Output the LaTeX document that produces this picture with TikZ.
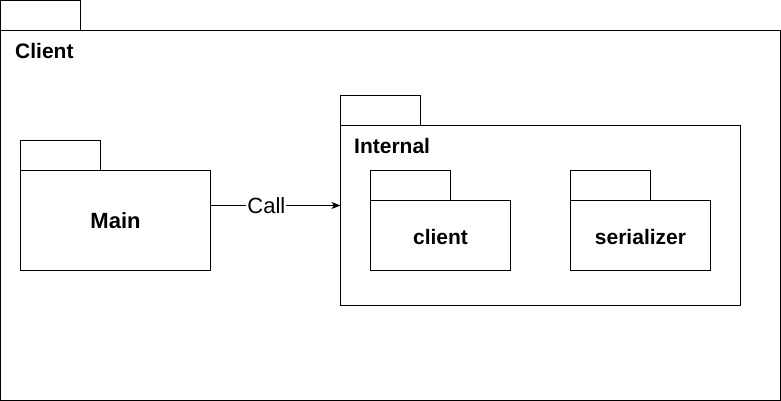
\documentclass[tikz,border=0pt]{standalone}
\usepackage{fontspec}
\setmainfont{Liberation Sans}
\usetikzlibrary{arrows.meta}
\begin{document}
\begin{tikzpicture}[x=1pt,y=-1pt,
  box/.style={draw=black, line width=1pt, fill=white, rectangle, inner sep=0pt, outer sep=0pt, anchor=north west},
  lbl/.style={inner sep=0pt, font=\bfseries\fontsize{21}{25}\selectfont},
  arr/.style={line width=1pt, -{Stealth[length=9pt,width=7pt,inset=2.5pt]}}
]
\useasboundingbox (0,0) rectangle (781,401);
% Client package
\node[box, minimum width=80pt, minimum height=30pt] (clienttab) at (0.5,0.5) {};
\node[box, minimum width=780pt, minimum height=370pt] (clientbody) at (0.5,30.5) {};
\node[lbl, anchor=west] (clientlbl) at (15,51) {Client};
% Main package
\node[box, minimum width=80pt, minimum height=30pt] (maintab) at (20.5,140.5) {};
\node[box, minimum width=190pt, minimum height=100pt] (mainbody) at (20.5,170.5) {};
\node[lbl, font=\bfseries\fontsize{22}{26}\selectfont] (mainlbl) at (mainbody.center) {Main};
% Internal package
\node[box, minimum width=80pt, minimum height=30pt] (inttab) at (340.5,95.5) {};
\node[box, minimum width=400pt, minimum height=180pt] (intbody) at (340.5,125.5) {};
\node[lbl, anchor=west] (intlbl) at (354,146) {Internal};
% client package
\node[box, minimum width=80pt, minimum height=30pt] (cltab) at (370.5,170.5) {};
\node[box, minimum width=140pt, minimum height=70pt] (clbody) at (370.5,200.5) {};
\node[lbl] (cllbl) at ([yshift=-1pt]clbody.center) {client};
% serializer package
\node[box, minimum width=80pt, minimum height=30pt] (sertab) at (570.5,170.5) {};
\node[box, minimum width=140pt, minimum height=70pt] (serbody) at (570.5,200.5) {};
\node[lbl] (serlbl) at ([yshift=-1pt]serbody.center) {serializer};
% Call connector
\draw[arr] ([yshift=15pt]mainbody.east) -- ([yshift=15pt]mainbody.east -| intbody.west)
  node[pos=0.43, fill=white, inner sep=1pt, font=\fontsize{22}{26}\selectfont] (calllbl) {Call};
\end{tikzpicture}
\end{document}
